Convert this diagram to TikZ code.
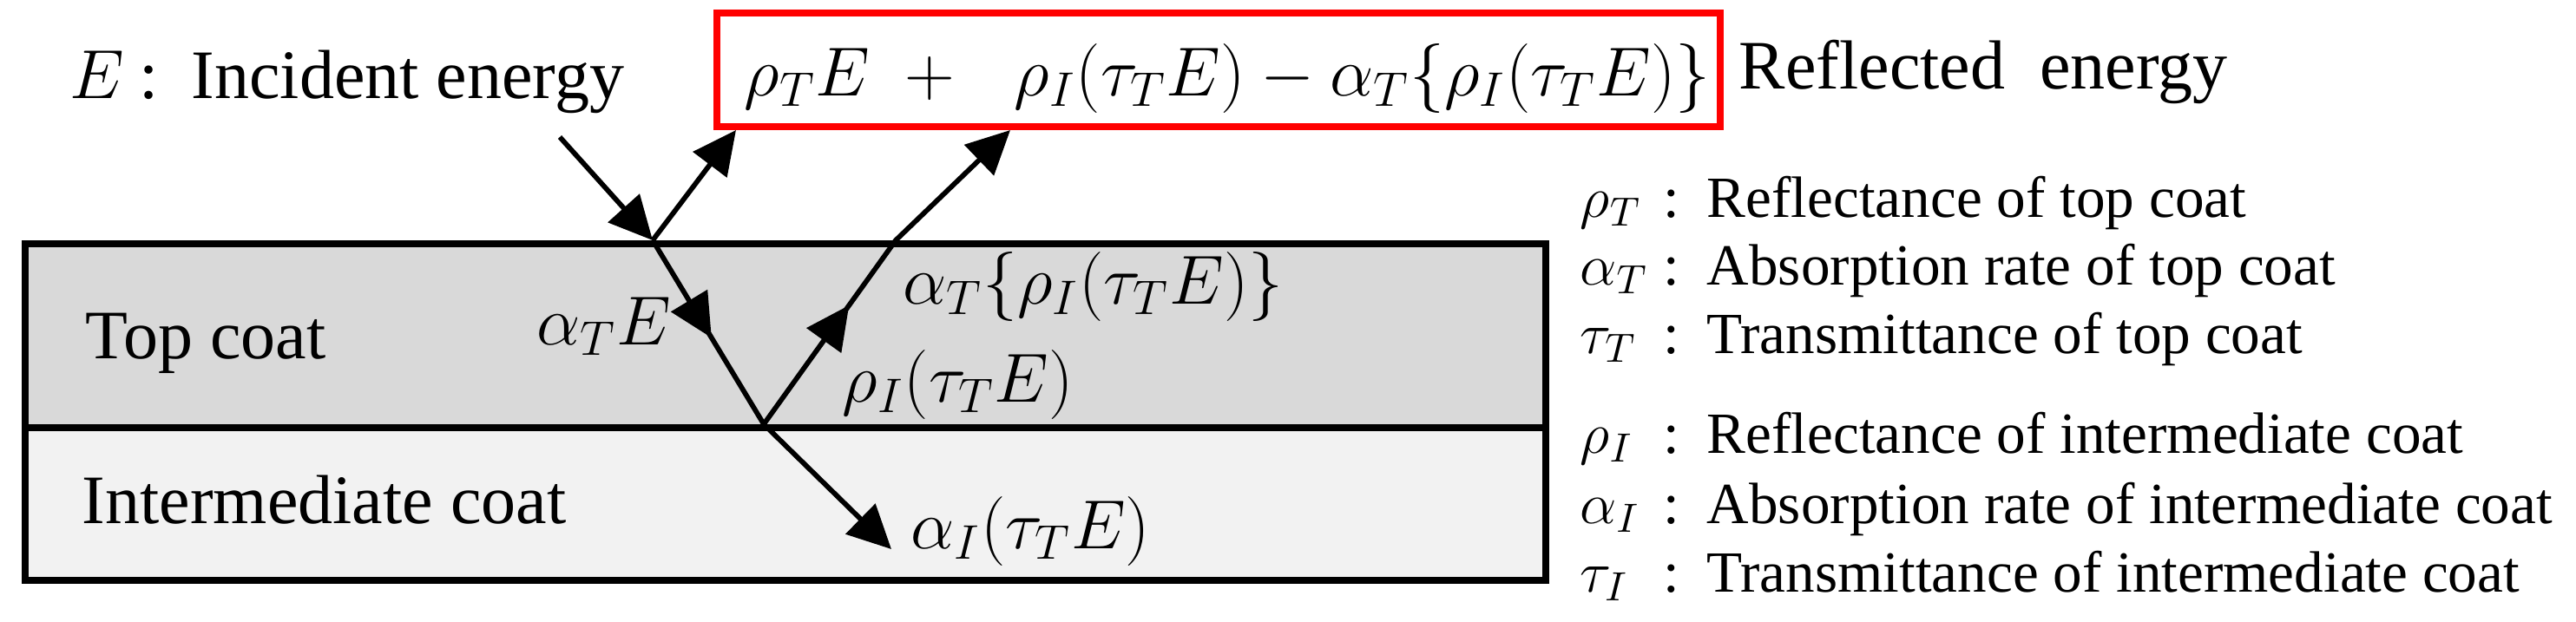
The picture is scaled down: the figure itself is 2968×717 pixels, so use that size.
\RequirePackage{fix-cm}
\documentclass[tikz,border=0pt]{standalone}
\usepackage{fontspec}
\setmainfont{Liberation Serif}
\usetikzlibrary{arrows.meta,decorations.markings}
\definecolor{topgray}{HTML}{D9D9D9}
\definecolor{intgray}{HTML}{F2F2F2}
\definecolor{boxred}{HTML}{FF0000}
\begin{document}
\begin{tikzpicture}[x=0.25pt,y=-0.25pt,
  big/.style={font=\fontsize{20pt}{24pt}\selectfont, inner sep=0pt, anchor=base west},
  leg/.style={font=\fontsize{16.8pt}{20pt}\selectfont, inner sep=0pt, anchor=base west},
  ray/.style={line width=1.45pt},
  tipend/.style={-{Triangle[length=12.5pt,width=12pt]}},
  midarr/.style={postaction={decorate}, decoration={markings,
      mark=at position #1 with {\arrow{Triangle[length=12.5pt,width=12pt]}}}},
  layer/.style={draw, line width=1.9pt, inner sep=0pt, anchor=north west}]
\useasboundingbox (0,0) rectangle (2968,717);

% layers
\node[layer, fill=topgray, minimum width=438pt, minimum height=53pt] (topL) at (25,277) {};
\node[layer, fill=intgray, minimum width=438pt, minimum height=44pt] (intL) at (25,489) {};
\node[big] (tc) at (98,413) {Top coat};
\node[big] (ic) at (94,603) {Intermediate coat};

% red box and formula
\node[draw=boxred, line width=1.8pt, minimum width=289pt, minimum height=32.75pt, inner sep=0pt] (box) at (1404,80.5) {};
\node[big] (f1) at (857,110) {$\rho_T E$};
\node[big, anchor=base] (plus) at (1071,110) {$+$};
\node[big] (f2) at (1168,110) {$\rho_I(\tau_T E)-\alpha_T\{\rho_I(\tau_T E)\}$};
\node[big] (refl) at (2003,102) {Reflected\ \ energy};

% incident label
\node[big] (Esym) at (80,113) {$E$};
\node[big] (Ecol) at (160,113) {:};
\node[big] (inc) at (220,113) {Incident energy};

% ray points
\coordinate (S) at (645,158);
\coordinate (P1) at (752,277);
\coordinate (R1) at (848,150);
\coordinate (P2) at (880,489);
\coordinate (P3) at (1032,277);
\coordinate (R2) at (1164,150);
\coordinate (T) at (1027,633);

\draw[ray,tipend] (S) -- (P1);
\draw[ray,tipend] (P1) -- (R1);
\draw[ray,midarr=0.53] (P1) -- (P2);
\draw[ray,tipend] (P2) -- (T);
\draw[ray,tipend,midarr=0.38] (P2) -- (P3) -- (R2);

% ray labels
\node[big] (aTE) at (618,397) {$\alpha_T E$};
\node[big] (rI) at (970,463) {$\rho_I(\tau_T E)$};
\node[big] (aTr) at (1040,350) {$\alpha_T\{\rho_I(\tau_T E)\}$};
\node[big] (aI) at (1049,632) {$\alpha_I(\tau_T E)$};

% legend
\foreach \yy/\sym/\txt/\n in {250/\rho_T/Reflectance of top coat/1,
    328/\alpha_T/Absorption rate of top coat/2,
    407/\tau_T/Transmittance of top coat/3,
    522/\rho_I/Reflectance of intermediate coat/4,
    603/\alpha_I/Absorption rate of intermediate coat/5,
    682/\tau_I/Transmittance of intermediate coat/6}{
  \node[leg] (sym\n) at (1820,\yy) {$\sym$};
  \node[leg] (col\n) at (1916,\yy) {:};
  \node[leg] (txt\n) at (1966,\yy) {\txt};
}
\end{tikzpicture}
\end{document}
